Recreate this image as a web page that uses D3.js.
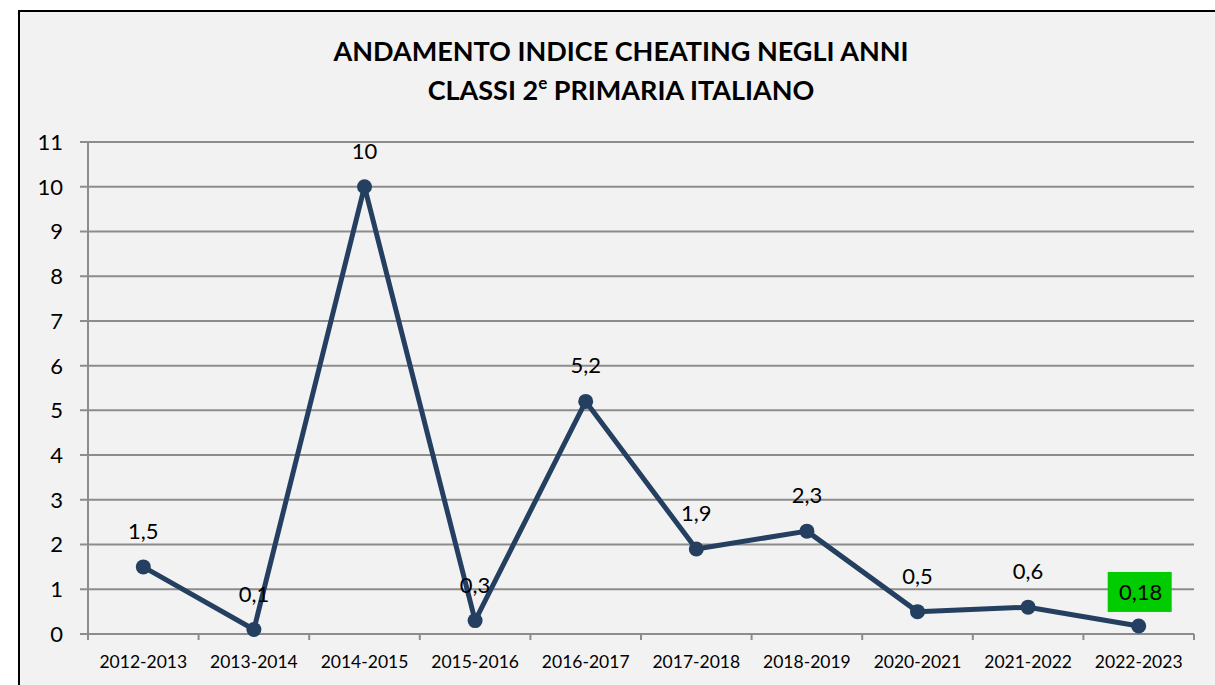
<!DOCTYPE html>
<html>
<head>
<meta charset="utf-8">
<script src="https://cdn.jsdelivr.net/npm/d3@7"></script>
<style>
  body { margin: 0; background: #fff; }
  svg { display: block; font-family: Lato, "Open Sans", sans-serif; }
</style>
</head>
<body>
<svg id="chart" width="1215" height="685"></svg>
<script>
// data
const years = ["2012-2013", "2013-2014", "2014-2015", "2015-2016", "2016-2017",
               "2017-2018", "2018-2019", "2020-2021", "2021-2022", "2022-2023"];
const cheating = [1.5, 0.1, 10, 0.3, 5.2, 1.9, 2.3, 0.5, 0.6, 0.18];
const labels = ["1,5", "0,1", "10", "0,3", "5,2", "1,9", "2,3", "0,5", "0,6", "0,18"];
const yTicks = [0, 1, 2, 3, 4, 5, 6, 7, 8, 9, 10, 11];

let svg = d3.select("#chart");

// chart area background + frame
svg.append("rect")
    .attr("x", 19).attr("y", 11)
    .attr("width", 1215).attr("height", 700)
    .attr("fill", "#f2f2f2")
    .attr("stroke", "#000").attr("stroke-width", 2);

let margin = { top: 142, left: 88, right: 21, bottom: 51 },
    width = 1215 - margin.left - margin.right,
    height = 685 - margin.top - margin.bottom;

let x = d3.scaleBand().domain(years).range([0, width]),
    y = d3.scaleLinear().domain([0, 11]).range([height, 0]);

let g = svg.append("g")
    .attr("transform", "translate(" + margin.left + "," + margin.top + ")");

// horizontal grid
g.selectAll(".grid")
    .data(yTicks)
    .enter()
    .append("line")
    .attr("x1", -8).attr("x2", width)
    .attr("y1", d => y(d)).attr("y2", d => y(d))
    .attr("stroke", "#8c8c8c").attr("stroke-width", 2);

// y axis line
g.append("line")
    .attr("x1", 0).attr("x2", 0)
    .attr("y1", 0).attr("y2", height + 6)
    .attr("stroke", "#8c8c8c").attr("stroke-width", 2);

// x ticks at category boundaries
let bounds = years.map(d => x(d)).concat([width]);
g.selectAll(".xtick")
    .data(bounds)
    .enter()
    .append("line")
    .attr("x1", d => d).attr("x2", d => d)
    .attr("y1", height).attr("y2", height + 6)
    .attr("stroke", "#8c8c8c").attr("stroke-width", 2);

// y labels
g.selectAll(".ylab")
    .data(yTicks)
    .enter()
    .append("text")
    .attr("x", -25)
    .attr("y", d => y(d))
    .attr("dy", "0.36em")
    .attr("text-anchor", "end")
    .attr("font-size", 22)
    .attr("fill", "#000")
    .text(d => d);

// x labels
g.selectAll(".xlab")
    .data(years)
    .enter()
    .append("text")
    .attr("x", d => x(d) + x.bandwidth() / 2)
    .attr("y", height + 34)
    .attr("text-anchor", "middle")
    .attr("font-size", 17.5)
    .attr("fill", "#000")
    .text(d => d);

let line = d3.line()
    .x((d, i) => x(years[i]) + x.bandwidth() / 2)
    .y(d => y(d));

g.append("path")
    .datum(cheating)
    .attr("d", line)
    .attr("fill", "none")
    .attr("stroke", "#243f60")
    .attr("stroke-width", 5)
    .attr("stroke-linejoin", "round");

g.selectAll(".dot")
    .data(cheating)
    .enter()
    .append("circle")
    .attr("cx", (d, i) => x(years[i]) + x.bandwidth() / 2)
    .attr("cy", d => y(d))
    .attr("r", 7.5)
    .attr("fill", "#243f60");

// highlight box for last value
let last = cheating.length - 1;
g.append("rect")
    .attr("x", x(years[last]) + x.bandwidth() / 2 - 31)
    .attr("y", y(cheating[last]) - 54)
    .attr("width", 64)
    .attr("height", 40)
    .attr("fill", "#00cc00");

g.selectAll(".vlab")
    .data(cheating)
    .enter()
    .append("text")
    .attr("x", (d, i) => x(years[i]) + x.bandwidth() / 2 + (i === last ? 2 : 0))
    .attr("y", (d, i) => y(d) - (i === last ? 26 : 28))
    .attr("text-anchor", "middle")
    .attr("font-size", 22)
    .attr("fill", "#000")
    .text((d, i) => labels[i]);

// title
let title = svg.append("text")
    .attr("x", 621)
    .attr("text-anchor", "middle")
    .attr("font-size", 27)
    .attr("font-weight", "bold")
    .attr("fill", "#000");
title.append("tspan").attr("x", 621).attr("y", 61).text("ANDAMENTO INDICE CHEATING NEGLI ANNI");
let l2 = title.append("tspan").attr("x", 621).attr("y", 100);
l2.append("tspan").text("CLASSI 2");
l2.append("tspan").attr("font-size", 17).attr("dy", -11).text("e");
l2.append("tspan").attr("dy", 11).text(" PRIMARIA ITALIANO");
</script>
</body>
</html>
